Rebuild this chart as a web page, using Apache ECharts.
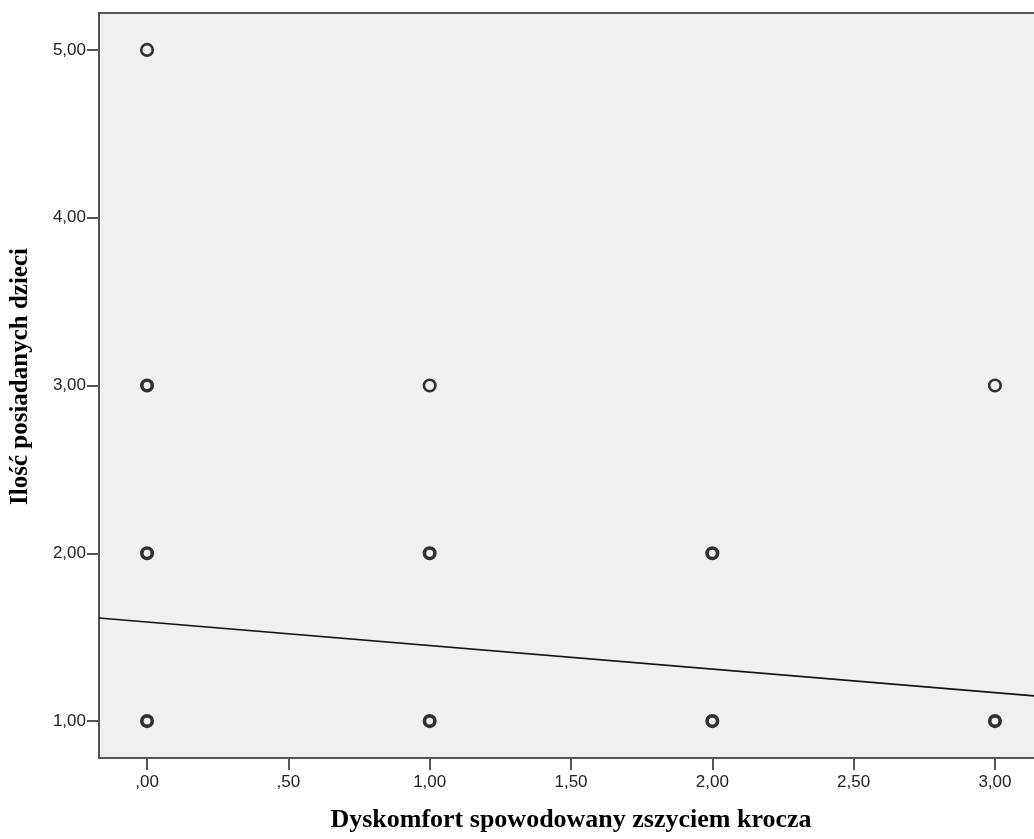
<!DOCTYPE html>
<html>
<head>
<meta charset="utf-8">
<script src="https://cdn.jsdelivr.net/npm/echarts@6/dist/echarts.min.js"></script>
<style>
  html, body { margin: 0; padding: 0; background: #ffffff; }
  #chart { width: 1034px; height: 839px; }
</style>
</head>
<body>
<div id="chart"></div>
<script>
// Axis ticks and their printed labels (decimal comma, no leading zero)
const xTicks = [0, 0.5, 1, 1.5, 2, 2.5, 3];
const xTickLabels = [',00', ',50', '1,00', '1,50', '2,00', '2,50', '3,00'];
const yTicks = [1, 2, 3, 4, 5];
const yTickLabels = ['1,00', '2,00', '3,00', '4,00', '5,00'];

// Observations occurring once
const singleX = [0, 1, 3];
const singleY = [5, 3, 3];

// Observations occurring several times (overplotted, drawn heavier)
const repeatedX = [0, 0, 0, 1, 1, 2, 2, 3];
const repeatedY = [3, 2, 1, 2, 1, 2, 1, 1];

// Linear fit line, end points at the axis limits
const fitX = [-0.17, 3.17];
const fitY = [1.614, 1.146];

const xTitle = 'Dyskomfort spowodowany zszyciem krocza';
const yTitle = 'Ilość posiadanych dzieci';

const pairs = (xs, ys) => xs.map((x, i) => [x, ys[i]]);
const labelFor = (ticks, labels) => v => {
  const i = ticks.findIndex(t => Math.abs(t - v) < 1e-9);
  return i >= 0 ? labels[i] : '';
};

const axisColor = '#555555';
const tickFont = { fontFamily: 'Liberation Sans, Arial, sans-serif', fontSize: 17, color: '#222' };
const titleFont = { fontFamily: 'Liberation Serif, Times New Roman, serif', fontWeight: 'bold', fontSize: 26, color: '#000' };

const chart = echarts.init(document.getElementById('chart'), null, { renderer: 'canvas' });
chart.setOption({
  animation: false,
  backgroundColor: '#ffffff',
  grid: {
    left: 99, top: 13, right: -9, bottom: 81,
    show: true,
    backgroundColor: '#eff0ef',
    borderColor: axisColor,
    borderWidth: 2,
    containLabel: false,
    outerBoundsMode: 'none'
  },
  xAxis: {
    type: 'value',
    min: -0.17, max: 3.17,
    name: xTitle,
    nameLocation: 'middle',
    nameGap: 49,
    nameTextStyle: titleFont,
    splitLine: { show: false },
    axisLine: { show: true, onZero: false, lineStyle: { color: axisColor, width: 2 } },
    axisTick: { show: true, customValues: xTicks, length: 12, lineStyle: { color: axisColor, width: 2 } },
    axisLabel: { customValues: xTicks, formatter: labelFor(xTicks, xTickLabels), margin: 16, ...tickFont }
  },
  yAxis: {
    type: 'value',
    min: 0.78, max: 5.22,
    name: yTitle,
    nameLocation: 'middle',
    nameRotate: 90,
    nameGap: 66,
    nameTextStyle: { ...titleFont, fontSize: 25, padding: [0, 0, 0, 18] },
    splitLine: { show: false },
    axisLine: { show: true, onZero: false, lineStyle: { color: axisColor, width: 2 } },
    axisTick: { show: true, customValues: yTicks, length: 12, lineStyle: { color: axisColor, width: 2 } },
    axisLabel: { customValues: yTicks, formatter: labelFor(yTicks, yTickLabels), margin: 13, ...tickFont }
  },
  series: [
    {
      type: 'line',
      data: pairs(fitX, fitY),
      showSymbol: false,
      symbol: 'none',
      lineStyle: { color: '#111', width: 1.6 },
      silent: true,
      z: 2
    },
    {
      type: 'scatter',
      data: pairs(singleX, singleY),
      symbol: 'circle',
      symbolSize: 11.5,
      itemStyle: { color: 'rgba(0,0,0,0)', borderColor: '#000', borderWidth: 2.6 },
      z: 3
    },
    {
      type: 'scatter',
      data: pairs(repeatedX, repeatedY),
      symbol: 'circle',
      symbolSize: 10.5,
      itemStyle: { color: 'rgba(0,0,0,0)', borderColor: '#000', borderWidth: 3.6 },
      z: 3
    }
  ]
});
</script>
</body>
</html>
